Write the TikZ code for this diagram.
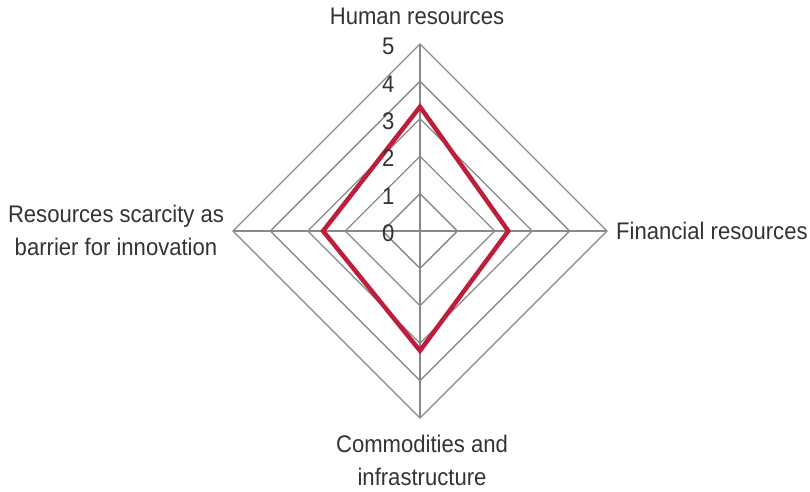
\documentclass[tikz,border=0pt]{standalone}
\usepackage{fontspec}
\setmainfont{Liberation Sans}[FakeStretch=0.92]
\definecolor{gridgray}{RGB}{137,137,137}
\definecolor{txtgray}{RGB}{51,51,51}
\definecolor{dataline}{RGB}{190,30,60}
\begin{document}
\begin{tikzpicture}[x=1bp,y=-1bp,
  gridline/.style={draw=gridgray,line width=1.3bp},
  datapoly/.style={draw=dataline,line width=4.5bp,line join=miter},
  lbl/.style={font=\fontsize{24bp}{33.5bp}\selectfont,text=txtgray,inner sep=0pt},
  numlbl/.style={lbl,anchor=base east}]
\useasboundingbox (0,0) rectangle (810,492);
\coordinate (O) at (420,231);
\foreach \k in {1,...,5}{
  \draw[gridline] (420,{231-37.4*\k}) -- ({420+37.4*\k},231) -- (420,{231+37.4*\k}) -- ({420-37.4*\k},231) -- cycle;
}
\coordinate (T) at (420,44);
\coordinate (R) at (607,231);
\coordinate (B) at (420,418);
\coordinate (L) at (233,231);
\draw[gridline] (O) -- (T);
\draw[gridline] (O) -- (R);
\draw[gridline] (O) -- (B);
\draw[gridline] (O) -- (L);
\coordinate (dT) at (420,106.8);
\coordinate (dR) at (508.3,231);
\coordinate (dB) at (420,350.7);
\coordinate (dL) at (323.1,231);
\draw[datapoly] (dT) -- (dR) -- (dB) -- (dL) -- cycle;
\foreach \k in {0,...,5}{
  \node[numlbl] (n\k) at (394.5,{231-37.4*\k+10.8}) {\k};
}
\node[lbl,anchor=north] (hr) at (417,8) {Human resources};
\node[lbl,anchor=base west] (fr) at (616,239.3) {Financial resources};
\node[lbl,anchor=north,align=center] (ci) at (422,434.7) {Commodities and\\infrastructure};
\node[lbl,anchor=north,align=center] (rs) at (116,204.5) {Resources scarcity as\\barrier for innovation};
\end{tikzpicture}
\end{document}
